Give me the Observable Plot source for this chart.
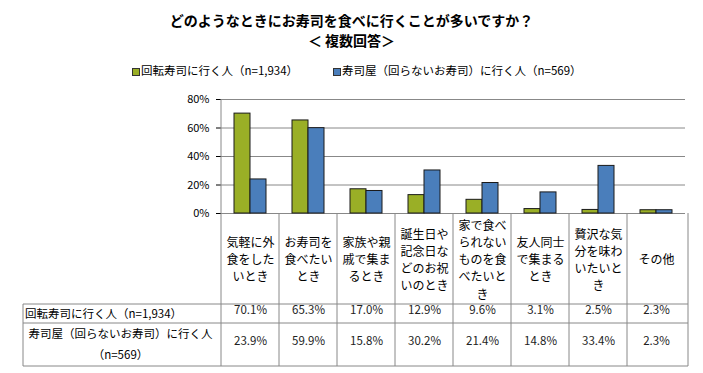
<!DOCTYPE html>
<html><head><meta charset="utf-8">
<script src="https://cdn.jsdelivr.net/npm/d3@7"></script>
<script src="https://cdn.jsdelivr.net/npm/@observablehq/plot@0.6"></script>
<style>
body{margin:0;background:#fff;font-family:"Noto Sans CJK JP","Noto Sans",sans-serif;color:#000;}
#wrap{position:relative;width:703px;height:373px;overflow:hidden;}
#title{position:absolute;left:0;top:10px;width:703px;text-align:center;font-weight:bold;font-size:14px;line-height:20px;}
#legend{position:absolute;top:61px;left:0;width:703px;font-size:11.5px;line-height:18px;}
.li{position:absolute;top:0;white-space:nowrap;}
.sw{display:inline-block;width:6px;height:6px;border:1px solid #333;margin-right:1px;vertical-align:-1px;}
#chart{position:absolute;left:0;top:80px;}
</style></head><body>
<div id="wrap">
<div id="title">どのようなときにお寿司を食べに行くことが多いですか？<br>＜ 複数回答＞</div>
<div id="legend"></div>
<div id="chart"></div>
</div>
<script>
const categories = ["気軽に外食をしたいとき","お寿司を食べたいとき","家族や親戚で集まるとき","誕生日や記念日などのお祝いのとき","家で食べられないものを食べたいとき","友人同士で集まるとき","贅沢な気分を味わいたいとき","その他"];
const categoryLines = ["気軽に外\n食をした\nいとき","お寿司を\n食べたい\nとき","家族や親\n戚で集ま\nるとき","誕生日や\n記念日な\nどのお祝\nいのとき","家で食べ\nられない\nものを食\nべたいと\nき","友人同士\nで集まる\nとき","贅沢な気\n分を味わ\nいたいと\nき","その他"];
const seriesNames = ["回転寿司に行く人（n=1,934）","寿司屋（回らないお寿司）に行く人（n=569）"];
const rowHeaders = ["回転寿司に行く人（n=1,934）","寿司屋（回らないお寿司）に行く人\n（n=569）"];
const kaitenValues = [70.1,65.3,17.0,12.9,9.6,3.1,2.5,2.3];
const sushiyaValues = [23.9,59.9,15.8,30.2,21.4,14.8,33.4,2.3];
const yTicks = [0,20,40,60,80];
const colors = ["#9aaf26","#4a7ebb"];

const data = [];
categories.forEach((c,i)=>{
  data.push({cat:c, series:seriesNames[0], value:kaitenValues[i]});
  data.push({cat:c, series:seriesNames[1], value:sushiyaValues[i]});
});

// legend
const legend = document.getElementById("legend");
[[132,0],[333,1]].forEach(([x,i])=>{
  const d = document.createElement("div");
  d.className="li"; d.style.left = x+"px";
  d.innerHTML = `<span class="sw" style="background:${colors[i]}"></span>${seriesNames[i]}`;
  legend.appendChild(d);
});

const W = 703, H = 293, mL = 218, mR = 15, mT = 19, mB = 160;
const font = '"Noto Sans CJK JP","Noto Sans",sans-serif';
const chart = Plot.plot({
  width: W, height: H,
  marginLeft: mL, marginRight: mR, marginTop: mT, marginBottom: mB,
  style: {fontFamily: font, fontSize: "11px", color: "#000", background: "#fff"},
  fx: {domain: categories, padding: 0, axis: null},
  x: {domain: seriesNames, paddingInner: 0, paddingOuter: 0.73, axis: null},
  y: {domain: [0, 80], ticks: yTicks, tickFormat: d => d + "%", label: null, tickSize: 5, tickPadding: 7},
  color: {domain: seriesNames, range: colors},
  marks: [
    Plot.gridY(yTicks, {stroke: "#888", strokeOpacity: 1, strokeWidth: 1}),
    Plot.barY(data, {fx: "cat", x: "series", y: "value", fill: "series", stroke: "#1a1a1a", strokeWidth: 1}),
    Plot.text(categories, {fx: d => d, text: (d, i) => categoryLines[i], frameAnchor: "bottom", dy: 45.5, lineHeight: 1.42, fontSize: 12, lineAnchor: "middle"}),
    Plot.text(data.filter(d => d.series === seriesNames[0]), {fx: "cat", text: d => d.value.toFixed(1) + "%", frameAnchor: "bottom", dy: 100.5, fontSize: 11.5, fill: "#222"}),
    Plot.text(data.filter(d => d.series === seriesNames[1]), {fx: "cat", text: d => d.value.toFixed(1) + "%", frameAnchor: "bottom", dy: 131, fontSize: 11.5, fill: "#222"})
  ]
});
const svg = d3.select(chart);
const xs = chart.scale("fx");
const ys = chart.scale("y");
const [x0, x1] = xs.range;
const yb = ys.apply(0), yt = ys.apply(80);
const g = svg.append("g").attr("stroke", "#888").attr("stroke-width", 1).attr("fill", "none");
const rowTop = yb + 91, rowMid = yb + 110, rowBot = yb + 153;
const left = 23;
// vertical lines at category boundaries
const bounds = categories.map(c => xs.apply(c)).concat([x1]);
bounds.forEach((bx, i) => {
  g.append("line").attr("x1", bx).attr("x2", bx).attr("y1", i === 0 ? yt : yb).attr("y2", rowBot);
});
g.append("line").attr("x1", left).attr("x2", left).attr("y1", rowTop).attr("y2", rowBot);
[rowTop, rowMid, rowBot].forEach(y => g.append("line").attr("x1", left).attr("x2", x1).attr("y1", y).attr("y2", y));
// row headers
const th = svg.append("g").attr("font-size", 11.5).attr("fill", "#000");
th.append("text").attr("x", left + 2).attr("text-anchor", "start").attr("y", (rowTop + rowMid) / 2).attr("dy", "0.35em").text(rowHeaders[0]);
rowHeaders[1].split("\n").forEach((t, i, arr) => {
  th.append("text").attr("x", (left + x0) / 2).attr("text-anchor", "middle")
    .attr("y", (rowMid + rowBot) / 2 + (i - (arr.length - 1) / 2) * 21).attr("dy", "0.35em").text(t);
});
document.getElementById("chart").appendChild(chart);
</script>
</body></html>
